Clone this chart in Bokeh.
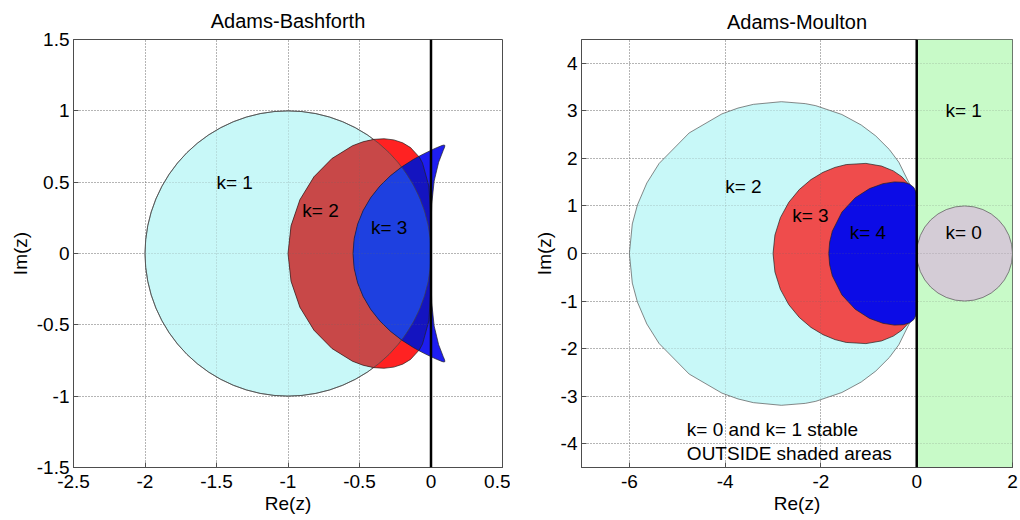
from bokeh.plotting import figure
from bokeh.layouts import row
from bokeh.models import Range1d, FixedTicker, Grid, Span
from bokeh.core.properties import value
from bokeh.embed import file_html
from bokeh.resources import INLINE

FONT = "Liberation Sans"

# ---------------- Adams-Bashforth (left panel) ----------------
ab_xlim = [-2.5, 0.5]
ab_ylim = [-1.5, 1.5]
ab_xticks = [-2.5, -2.0, -1.5, -1.0, -0.5, 0.0, 0.5]
ab_xtick_labels = ["-2.5", "-2", "-1.5", "-1", "-0.5", "0", "0.5"]
ab_yticks = [-1.5, -1.0, -0.5, 0.0, 0.5, 1.0, 1.5]
ab_ytick_labels = ["-1.5", "-1", "-0.5", "0", "0.5", "1", "1.5"]

# k=1 : disc
ab1_center_re = [-1.0]
ab1_center_im = [0.0]
ab1_diameter = 2.0

# k=2 boundary, upper half (from origin to the real axis)
ab2_re = [0.0, -0.0011, -0.0149, -0.0596, -0.0831, -0.1429, -0.1979, -0.2601, -0.3281,
          -0.4, -0.4741, -0.5487, -0.6923, -0.8185, -0.9166, -0.9787, -1.0]
ab2_im = [0.0, 0.2546, 0.4721, 0.6352, 0.6770, 0.7423, 0.7758, 0.7964, 0.8044,
          0.8, 0.7836, 0.7554, 0.6662, 0.5376, 0.3772, 0.1944, 0.0]

# k=3 boundary, upper half
ab3_re = [0.0, 0.0004, 0.0051, 0.0221, 0.0535, 0.0857, 0.0950, 0.0972, 0.0910, 0.0768,
          0.0276, -0.0414, -0.0802, -0.1207, -0.2032, -0.2835, -0.3574, -0.4219,
          -0.4746, -0.5135, -0.5374, -0.5455]
ab3_im = [0.0, 0.1745, 0.3470, 0.5083, 0.6396, 0.7230, 0.7455, 0.7573, 0.7605, 0.7569,
          0.7364, 0.7034, 0.6833, 0.6607, 0.6081, 0.5455, 0.4730, 0.3912,
          0.3011, 0.2046, 0.1034, 0.0]

# overlap of k=2 with the k=1 disc, upper half
ab2_in_ab1_re = [0.0, -0.0055, -0.0219, -0.0489, -0.0865, -0.1340, -0.1910, -0.2340,
                 -0.2929, -0.3506, -0.4, -0.4741, -0.5487, -0.6923, -0.8185, -0.9166,
                 -0.9787, -1.0]
ab2_in_ab1_im = [0.0, 0.1045, 0.2079, 0.3090, 0.4067, 0.5, 0.5878, 0.6428,
                 0.7071, 0.7604, 0.8, 0.7836, 0.7554, 0.6662, 0.5376, 0.3772,
                 0.1944, 0.0]

# overlap of k=3 with k=2, upper half
ab3_in_ab2_re = [0.0, -0.0011, -0.0149, -0.0596, -0.0800, -0.1207, -0.2032, -0.2835,
                 -0.3574, -0.4219, -0.4746, -0.5135, -0.5374, -0.5455]
ab3_in_ab2_im = [0.0, 0.2546, 0.4721, 0.6352, 0.6800, 0.6607, 0.6081, 0.5455,
                 0.4730, 0.3912, 0.3011, 0.2046, 0.1034, 0.0]

# overlap of k=3 with the k=1 disc, upper half
ab3_in_ab1_re = [0.0, -0.0055, -0.0219, -0.0489, -0.0865, -0.1340, -0.1910, -0.2050,
                 -0.2835, -0.3574, -0.4219, -0.4746, -0.5135, -0.5374, -0.5455]
ab3_in_ab1_im = [0.0, 0.1045, 0.2079, 0.3090, 0.4067, 0.5, 0.5878, 0.6060,
                 0.5455, 0.4730, 0.3912, 0.3011, 0.2046, 0.1034, 0.0]

ab_label_re = [-1.5, -0.9, -0.42]
ab_label_im = [0.5, 0.3, 0.18]
ab_label_text = ["k= 1", "k= 2", "k= 3"]

# ---------------- Adams-Moulton (right panel) ----------------
am_xlim = [-7.0, 2.0]
am_ylim = [-4.5, 4.5]
am_xticks = [-6.0, -4.0, -2.0, 0.0, 2.0]
am_xtick_labels = ["-6", "-4", "-2", "0", "2"]
am_yticks = [-4.0, -3.0, -2.0, -1.0, 0.0, 1.0, 2.0, 3.0, 4.0]
am_ytick_labels = ["-4", "-3", "-2", "-1", "0", "1", "2", "3", "4"]

# k=1 : shaded half-plane strip
am1_left = [0.0]
am1_right = [2.0]
am1_bottom = [-4.5]
am1_top = [4.5]

# k=0 : disc
am0_center_re = [1.0]
am0_center_im = [0.0]
am0_diameter = 2.0

# k=2 boundary, upper half
am2_re = [0.0, -0.0006, -0.0096, -0.0472, -0.1483, -0.3745, -0.5704, -0.857, -1.1583,
          -1.563, -2.107, -2.3255, -2.826, -3.4111, -3.732, -4.068, -4.752, -5.3796,
          -5.636, -5.8329, -5.939, -6.0]
am2_im = [0.0, 0.3491, 0.7005, 1.0638, 1.4600, 1.9206, 2.1854, 2.474, 2.7016,
          2.923, 3.108, 3.1515, 3.192, 3.1363, 3.058, 2.936, 2.535, 1.8929,
          1.482, 1.0202, 0.622, 0.0]

# k=3 boundary, upper half
am3_re = [0.0, 0.0, -0.0022, -0.0220, -0.0506, -0.1018, -0.1846, -0.3096, -0.4886,
          -0.7348, -1.0606, -1.4721, -1.7071, -1.9552, -2.2079, -2.4521, -2.6711,
          -2.8466, -2.9604, -3.0]
am3_im = [0.0, 0.3489, 0.6945, 1.0259, 1.1828, 1.3332, 1.4769, 1.6129, 1.7370,
          1.8381, 1.8949, 1.8700, 1.8101, 1.7074, 1.5543, 1.3447, 1.0764,
          0.7536, 0.3886, 0.0]

# k=4 boundary, upper half
am4_re = [0.0, 0.0, 0.0014, 0.0036, 0.0059, 0.0033, -0.0139, -0.0589, -0.1441, -0.2785,
          -0.4656, -0.7043, -0.9845, -1.2837, -1.5610, -1.7625, -1.8178, -1.8367]
am4_im = [0.0, 0.3491, 0.6966, 0.8660, 1.0264, 1.1706, 1.2921, 1.3875, 1.4561, 1.4973,
          1.5055, 1.4683, 1.3653, 1.1725, 0.8723, 0.4688, 0.2389, 0.0]

am_label_re = [0.6, -4.0, -2.6, -1.4, 0.6]
am_label_im = [3.0, 1.4, 0.8, 0.45, 0.45]
am_label_text = ["k= 1", "k= 2", "k= 3", "k= 4", "k= 0"]

am_note_re = [-4.8, -4.8]
am_note_im = [-3.7, -4.2]
am_note_text = ["k= 0 and k= 1 stable", "OUTSIDE shaded areas"]

imag_axis_re = 0.0


def mirror(re, im):
    """close an upper-half boundary with its reflection in the real axis"""
    return re + re[-2::-1], im + [-v for v in im[-2::-1]]


def make_fig(title, xlim, ylim, xt, xtl, yt, ytl, left, top, standoff):
    p = figure(width=510, height=520, x_range=Range1d(*xlim), y_range=Range1d(*ylim),
               output_backend="svg", toolbar_location=None, title=title,
               min_border_left=left, min_border_right=8, min_border_top=top,
               min_border_bottom=53)
    p.title.align = "center"
    p.title.text_font = FONT
    p.title.text_font_size = "20px"
    p.title.text_font_style = "normal"
    p.title.text_color = "black"
    p.title.standoff = standoff
    xtick = FixedTicker(ticks=xt)
    ytick = FixedTicker(ticks=yt)
    p.xaxis.ticker = xtick
    p.yaxis.ticker = ytick
    p.xgrid.ticker = xtick
    p.ygrid.ticker = ytick
    p.xaxis.major_label_overrides = {float(t): l for t, l in zip(xt, xtl)}
    p.yaxis.major_label_overrides = {float(t): l for t, l in zip(yt, ytl)}
    for ax in (p.xaxis, p.yaxis):
        ax.major_label_text_font = FONT
        ax.major_label_text_font_size = "19px"
        ax.major_label_text_color = "black"
        ax.axis_label_text_font = FONT
        ax.axis_label_text_font_size = "19px"
        ax.axis_label_text_font_style = "normal"
        ax.axis_label_text_color = "black"
        ax.major_tick_in = 5
        ax.major_tick_out = 0
        ax.minor_tick_in = 0
        ax.minor_tick_out = 0
        ax.axis_line_color = "#4d4d4d"
        ax.major_tick_line_color = "#4d4d4d"
    p.xaxis.major_label_standoff = 7
    p.xaxis.axis_label_standoff = 2
    p.yaxis.major_label_standoff = 4
    p.yaxis.axis_label_standoff = 3
    p.xaxis.axis_label = "Re(z)"
    p.yaxis.axis_label = "Im(z)"
    p.outline_line_color = "#4d4d4d"
    p.outline_line_width = 1
    for g in (p.xgrid, p.ygrid):
        g.grid_line_color = "#8c8c8c"
        g.grid_line_dash = "1 2"
        g.grid_line_width = 1
    # faint grid over the shaded regions
    for dim, tk in ((0, xtick), (1, ytick)):
        g = Grid(dimension=dim, ticker=tk, level="guide", grid_line_color="#6a6a6a",
                 grid_line_alpha=0.35, grid_line_dash="1 2", grid_line_width=1)
        p.add_layout(g)
    p.background_fill_color = "white"
    p.border_fill_color = "white"
    return p


EDGE = "#222222"
TXT = "19px"

# ---- left panel ----
p1 = make_fig("Adams-Bashforth", ab_xlim, ab_ylim, ab_xticks, ab_xtick_labels,
              ab_yticks, ab_ytick_labels, 73, 38, 15)

p1.ellipse(x=ab1_center_re, y=ab1_center_im, width=ab1_diameter, height=ab1_diameter,
           fill_color="#c8f8f8", line_color="#555555", line_width=0.7)

x, y = mirror(ab2_re, ab2_im)
p1.patch(x, y, fill_color="#ff2222", line_color=None)
x, y = mirror(ab2_in_ab1_re, ab2_in_ab1_im)
p1.patch(x, y, fill_color="#c84848", line_color=None)

x, y = mirror(ab3_re, ab3_im)
p1.patch(x, y, fill_color="#1e1ef0", line_color=None)
x, y = mirror(ab3_in_ab2_re, ab3_in_ab2_im)
p1.patch(x, y, fill_color="#1414c0", line_color=None)
x, y = mirror(ab3_in_ab1_re, ab3_in_ab1_im)
p1.patch(x, y, fill_color="#1e40e0", line_color=None)

# outlines
p1.ellipse(x=ab1_center_re, y=ab1_center_im, width=ab1_diameter, height=ab1_diameter,
           fill_color=None, line_color="#444444", line_width=0.7)
x, y = mirror(ab2_re, ab2_im)
p1.patch(x, y, fill_color=None, line_color=EDGE, line_width=0.7)
x, y = mirror(ab3_re, ab3_im)
p1.patch(x, y, fill_color=None, line_color=EDGE, line_width=0.7)

p1.add_layout(Span(location=imag_axis_re, dimension="height", line_color="black",
                   line_width=2.5))
p1.text(x=ab_label_re, y=ab_label_im, text=ab_label_text, text_font=value(FONT),
        text_font_size=TXT, text_align="left", text_baseline="middle",
        text_color="black", level="annotation")

# ---- right panel ----
p2 = make_fig("Adams-Moulton", am_xlim, am_ylim, am_xticks, am_xtick_labels,
              am_yticks, am_ytick_labels, 71, 36, 13)

p2.quad(left=am1_left, right=am1_right, bottom=am1_bottom, top=am1_top,
        fill_color="#c8fac8", line_color=None)
p2.ellipse(x=am0_center_re, y=am0_center_im, width=am0_diameter, height=am0_diameter,
           fill_color="#d4ccd6", line_color="#555555", line_width=0.7)

x, y = mirror(am2_re, am2_im)
p2.patch(x, y, fill_color="#c8f8f8", line_color="#555555", line_width=0.7)
x, y = mirror(am3_re, am3_im)
p2.patch(x, y, fill_color="#ef4c4c", line_color=EDGE, line_width=0.7)
x, y = mirror(am4_re, am4_im)
p2.patch(x, y, fill_color="#0c0ce6", line_color=EDGE, line_width=0.7)

p2.add_layout(Span(location=imag_axis_re, dimension="height", line_color="black",
                   line_width=2.5))
p2.text(x=am_label_re, y=am_label_im, text=am_label_text, text_font=value(FONT),
        text_font_size=TXT, text_align="left", text_baseline="middle",
        text_color="black", level="annotation")
p2.text(x=am_note_re, y=am_note_im, text=am_note_text, text_font=value(FONT),
        text_font_size=TXT, text_align="left", text_baseline="middle",
        text_color="black", level="annotation")

layout = row(p1, p2)
open("out.html", "w").write(file_html(layout, INLINE))
